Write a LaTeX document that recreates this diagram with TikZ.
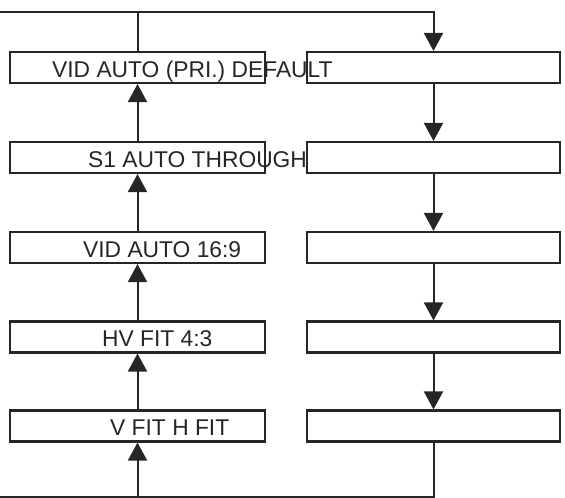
\documentclass[tikz,border=0pt]{standalone}
\usepackage{fontspec}
\setmainfont{Liberation Sans}
\usetikzlibrary{arrows.meta}
\definecolor{ink}{HTML}{262626}
\tikzset{
  menubox/.style={draw=ink, line width=2.1pt, rectangle, minimum height=31pt, inner sep=0pt},
  leftbox/.style={menubox, minimum width=255pt},
  rightbox/.style={menubox, minimum width=253pt},
  menutext/.style={anchor=base west, inner sep=0pt, text=ink, font=\fontsize{22.8pt}{26pt}\selectfont},
  flow/.style={draw=ink, line width=2pt, -{Triangle[width=19pt,length=18pt]}},
  flowline/.style={draw=ink, line width=2pt}
}
\begin{document}
\begin{tikzpicture}[x=1pt,y=-1pt]
\useasboundingbox (0,0) rectangle (565,498);
% left column
\node[leftbox] (L1) at (137.5,67.5) {};
\node[leftbox] (L2) at (137.5,157.5) {};
\node[leftbox] (L3) at (137.5,247.5) {};
\node[leftbox] (L4) at (137.5,337) {};
\node[leftbox] (L5) at (137.5,426) {};
% right column
\node[rightbox] (R1) at (433.5,67.5) {};
\node[rightbox] (R2) at (433.5,157.5) {};
\node[rightbox] (R3) at (433.5,247.5) {};
\node[rightbox] (R4) at (433.5,337) {};
\node[rightbox] (R5) at (433.5,426) {};
% texts
\node[menutext] (t1) at (52,77) {VID AUTO (PRI.) DEFAULT};
\node[menutext] (t2) at (88,167) {S1 AUTO THROUGH};
\node[menutext] (t3) at (83,257) {VID AUTO 16:9};
\node[menutext] (t4) at (102,346.5) {HV FIT 4:3};
\node[menutext] (t5) at (110,435.5) {V FIT H FIT};
% connectors
\coordinate (top) at (0,12);
\coordinate (bot) at (0,497);
\draw[flow] (L1.north) |- (top) -| (R1.north);
\draw[flow] (L2.north) -- (L1.south);
\draw[flow] (L3.north) -- (L2.south);
\draw[flow] (L4.north) -- (L3.south);
\draw[flow] (L5.north) -- (L4.south);
\draw[flow] (R1.south) -- (R2.north);
\draw[flow] (R2.south) -- (R3.north);
\draw[flow] (R3.south) -- (R4.north);
\draw[flow] (R4.south) -- (R5.north);
\draw[flow] (R5.south) |- (bot) -| (L5.south);
\end{tikzpicture}
\end{document}
